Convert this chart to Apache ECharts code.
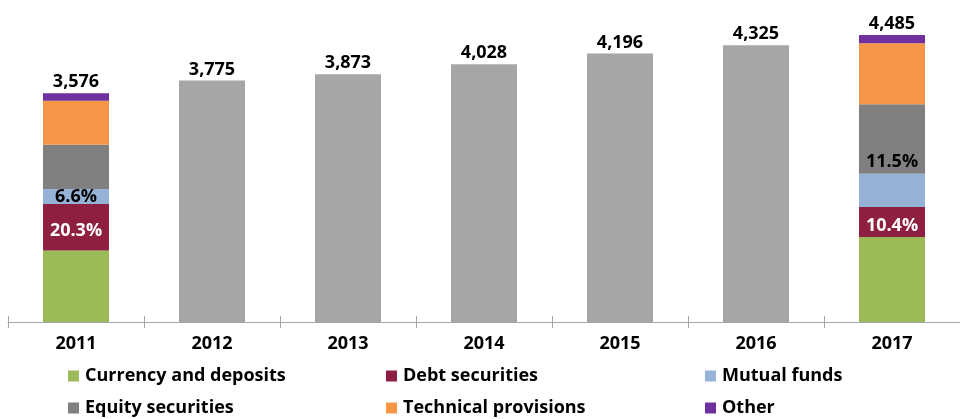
<!DOCTYPE html>
<html><head><meta charset="utf-8">
<script src="https://cdn.jsdelivr.net/npm/echarts@6/dist/echarts.min.js"></script>
<style>html,body{margin:0;padding:0;background:#fff}#c{width:960px;height:419px}</style>
</head><body><div id="c"></div>
<script>
var years = ['2011','2012','2013','2014','2015','2016','2017'];
var totals = [3576, 3775, 3873, 4028, 4196, 4325, 4485];
var currency  = [1118, null, null, null, null, null, 1330];
var debt      = [726,  null, null, null, null, null, 466];
var mutual    = [236,  null, null, null, null, null, 521];
var equity    = [688,  null, null, null, null, null, 1084];
var technical = [688,  null, null, null, null, null, 954];
var other     = [120,  null, null, null, null, null, 130];
var totalOnly = [null, 3775, 3873, 4028, 4196, 4325, null];
var debtLabels   = ['20.3%', '', '', '', '', '', '10.4%'];
var mutualLabels = ['6.6%', '', '', '', '', '', '11.5%'];
var fmtTotal = function(v){ return v.toLocaleString('en-US'); };

var FONT = 'Open Sans';
var chart = echarts.init(document.getElementById('c'));
function seg(name, arr, color, extra) {
  var s = { name: name, type: 'bar', stack: 'a', data: arr, barWidth: 66,
    itemStyle: { color: color }, xAxisIndex: 0 };
  for (var k in extra) s[k] = extra[k];
  return s;
}
var mutualData = mutual.map(function(v, i){
  var d = { value: v };
  if (i === 6) d.label = { offset: [0, -29] };
  return d;
});
var option = {
  animation: false,
  textStyle: { fontFamily: FONT },
  grid: { left: 8, right: -10, top: 2, bottom: 97, containLabel: false },
  xAxis: [{
    type: 'category', data: years,
    axisLine: { lineStyle: { color: '#a6a6a6', width: 1 } },
    axisTick: { show: true, length: 6, lineStyle: { color: '#a6a6a6' } },
    axisLabel: { color: '#000', fontSize: 18, fontWeight: 'bold', fontFamily: FONT, margin: 13 }
  }, {
    type: 'category', data: years, position: 'bottom', offset: 0,
    axisLine: { show: false },
    axisTick: { show: true, inside: true, length: 6, lineStyle: { color: '#a6a6a6' } },
    axisLabel: { show: false }
  }],
  yAxis: { type: 'value', min: 0, max: 5000, show: false, splitLine: { show: false } },
  legend: [
    { data: ['Currency and deposits', 'Equity securities'], orient: 'vertical', left: 68, top: 366 },
    { data: ['Debt securities', 'Technical provisions'], orient: 'vertical', left: 386, top: 366 },
    { data: ['Mutual funds', 'Other'], orient: 'vertical', left: 705, top: 366 }
  ].map(function(l){
    l.icon = 'rect'; l.itemWidth = 11; l.itemHeight = 11; l.itemGap = 12;
    l.padding = 0; l.height = 53; l.width = 280;
    l.textStyle = { color: '#000', fontSize: 18, lineHeight: 20, fontWeight: 'bold', fontFamily: FONT, padding: [0,0,0,1] };
    return l;
  }),
  series: [
    seg('Currency and deposits', currency, '#9bbb59', {}),
    seg('Debt securities', debt, '#8e1f41', { label: { show: true, position: 'inside', color: '#fff',
      fontSize: 18, fontWeight: 'bold', fontFamily: FONT, offset: [0, 4],
      formatter: function(p){ return debtLabels[p.dataIndex]; } } }),
    seg('Mutual funds', mutualData, '#95b3d7', { label: { show: true, position: 'inside', color: '#000',
      fontSize: 18, fontWeight: 'bold', fontFamily: FONT,
      formatter: function(p){ return mutualLabels[p.dataIndex]; } } }),
    seg('Equity securities', equity, '#808080', {}),
    seg('Technical provisions', technical, '#f79646', {}),
    seg('Other', other, '#7030a0', { label: { show: true, position: 'top', color: '#000',
      fontSize: 18, fontWeight: 'bold', fontFamily: FONT, distance: 2,
      formatter: function(p){ return fmtTotal(totals[p.dataIndex]); } } }),
    seg('Total', totalOnly, '#a6a6a6', { label: { show: true, position: 'top', color: '#000',
      fontSize: 18, fontWeight: 'bold', fontFamily: FONT, distance: 2,
      formatter: function(p){ return fmtTotal(p.value); } } })
  ]
};
chart.setOption(option);
</script>
</body></html>
